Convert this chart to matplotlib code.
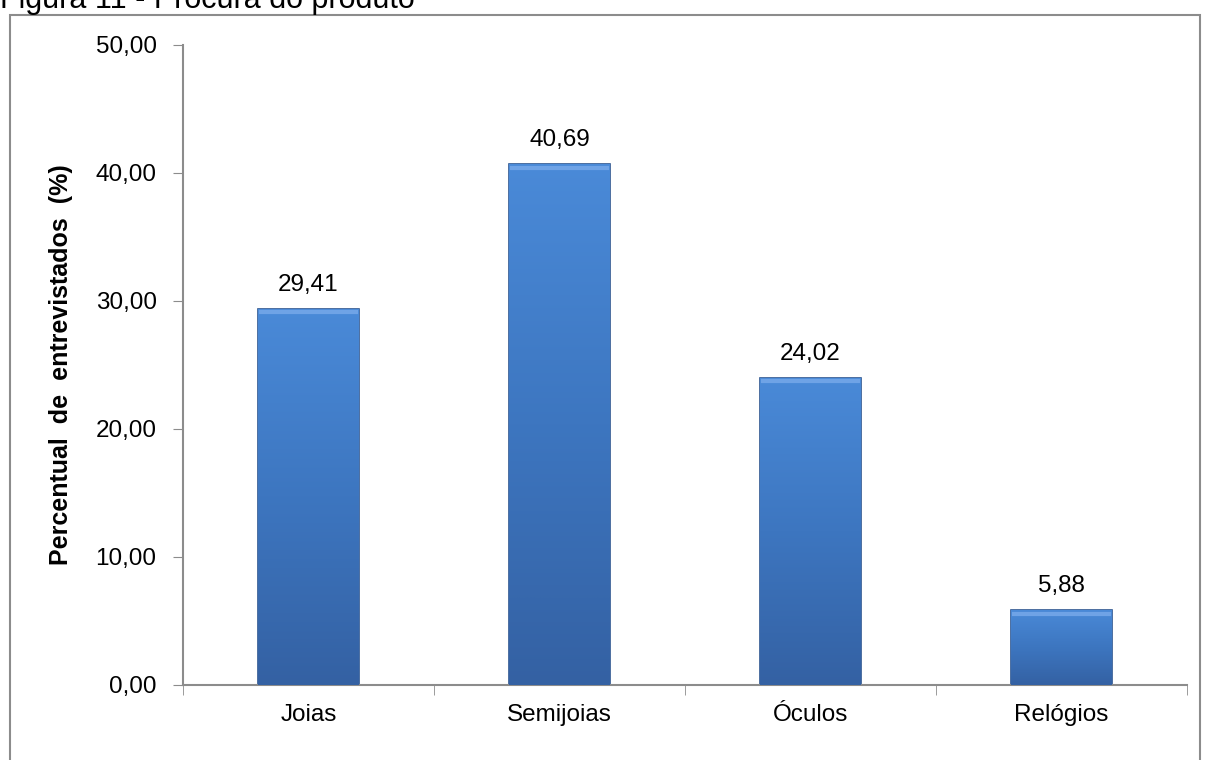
import numpy as np
import matplotlib.pyplot as plt
from matplotlib.patches import Rectangle

categorias = ['Joias', 'Semijoias', 'Óculos', 'Relógios']
valores = [29.41, 40.69, 24.02, 5.88]
yticks = [0, 10, 20, 30, 40, 50]

plt.rcParams['font.family'] = ['Liberation Sans', 'DejaVu Sans']

fig = plt.figure(figsize=(12.05, 7.6), dpi=100)
# moldura do grafico
fig.patches.append(Rectangle((10 / 1205, -0.05), 1190 / 1205, 1.05 - 15 / 760,
                             transform=fig.transFigure, fill=False,
                             edgecolor='#8c8c8c', linewidth=1.5))
fig.text(0, 1 - 8 / 760, 'Figura 11 - Procura do produto', fontsize=22,
         va='baseline', ha='left')

ax = fig.add_axes([183 / 1205, 1 - 685 / 760, (1187 - 183) / 1205, (685 - 45) / 760])
x = np.arange(len(categorias))
bars = ax.bar(x, valores, width=0.4, color='#3f7cc8', edgecolor='#2c5590',
              linewidth=1.2, zorder=2)

grad = np.linspace(0, 1, 256).reshape(-1, 1)
cmap = plt.matplotlib.colors.LinearSegmentedColormap.from_list(
    'azul', ['#3461a3', '#3d76c0', '#4a8ad8'])
for b in bars:
    x0, w, h = b.get_x(), b.get_width(), b.get_height()
    im = ax.imshow(grad, extent=[x0, x0 + w, 0, h], origin='lower', cmap=cmap,
                   aspect='auto', zorder=3)
    im.set_clip_path(b)
    ax.plot([x0 + 0.01, x0 + w - 0.01], [h - 0.3, h - 0.3], color='#6fa3e6',
            lw=3, zorder=4)
    ax.text(x0 + w / 2, h + 1.0, f'{h:.2f}'.replace('.', ','), ha='center',
            va='bottom', fontsize=17.5)

ax.set_xlim(-0.5, len(categorias) - 0.5)
ax.set_ylim(0, 50)
ax.set_yticks(yticks)
ax.set_yticklabels([f'{v:.2f}'.replace('.', ',') for v in yticks], fontsize=17.5)
ax.set_xticks(x)
ax.set_xticklabels(categorias, fontsize=17.5)
ax.tick_params(axis='x', length=0, pad=14)
ax.set_xticks(np.arange(len(categorias) + 1) - 0.5, minor=True)
ax.tick_params(axis='x', which='minor', length=7, color='#8c8c8c', direction='out')
ax.tick_params(axis='y', length=7, color='#8c8c8c', pad=12)
for s in ['top', 'right']:
    ax.spines[s].set_visible(False)
for s in ['left', 'bottom']:
    ax.spines[s].set_color('#8c8c8c')
    ax.spines[s].set_linewidth(1.5)
ax.set_ylabel('Percentual  de  entrevistados  (%)', fontsize=18, fontweight='bold')
ax.yaxis.set_label_coords(-0.1096, 0.5)

fig.savefig('out.png', dpi=100)
